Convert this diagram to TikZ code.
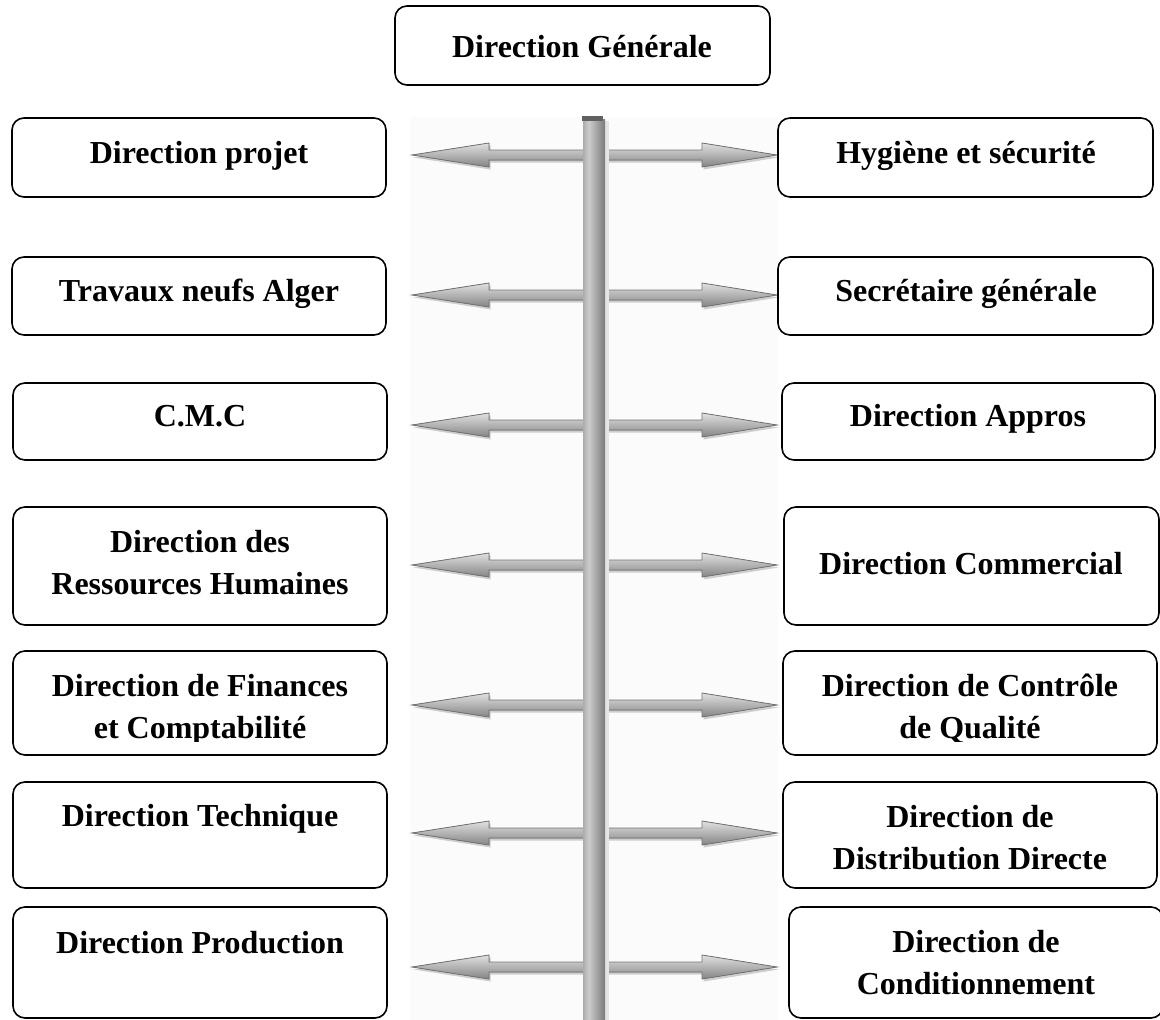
\documentclass[tikz,border=0pt]{standalone}
\usepackage{fontspec}
\setmainfont{Liberation Serif}
\usetikzlibrary{calc,fit,shadows}
% metallic shading for the vertical bar
\pgfdeclarehorizontalshading{polesh}{100bp}{color(0bp)=(black!62); color(12bp)=(black!45); color(38bp)=(black!20); color(70bp)=(black!48); color(100bp)=(black!68)}
\begin{document}
\begin{tikzpicture}[x=1pt,y=-1pt,
  orgbox/.style={draw=black, line width=1.6pt, rounded corners=12pt, fill=white, inner sep=0pt},
  orgtext/.style={font=\fontsize{32}{42}\selectfont\bfseries, align=center, inner sep=0pt, anchor=base},
  linkarrow/.style={top color=black!12, bottom color=black!48, draw=black!55, line width=0.8pt,
    drop shadow={shadow xshift=1.5pt, shadow yshift=-2.5pt, opacity=0.3, fill=black!60}},
]
\useasboundingbox (0,0) rectangle (1160,1020);

% faint backdrop behind the links
\fill[black!1.5] (410,117) rectangle (778,1020);

% two-way links between the left and right columns
\foreach \r/\yy in {1/155,2/295,3/425,4/565,5/705,6/833,7/967}{
  \coordinate (aL\r) at (412,\yy);
  \coordinate (aR\r) at (777,\yy);
  \filldraw[linkarrow] (aL\r) -- ($(aL\r)+(77,-12)$) -- ($(aL\r)+(77,-5)$)
    -- ($(aR\r)+(-75,-5)$) -- ($(aR\r)+(-75,-12)$) -- (aR\r)
    -- ($(aR\r)+(-75,12)$) -- ($(aR\r)+(-75,5)$)
    -- ($(aL\r)+(77,5)$) -- ($(aL\r)+(77,12)$) -- cycle;
}

% vertical bar
\fill[black!10] (605,121) rectangle (609,1020);
\node[fit={(583,119) (605,1020)}, inner sep=0pt, shading=polesh] (pole) {};
\fill[black!62] (582,116) rectangle (603,121);

% top box
\node[orgbox, fit={(395,6) (770,85)}] (dg) {};
\node[orgtext] (dg-t) at (582,57) {Direction Générale};

% left column
\node[orgbox, fit={(12,118) (386,197)}] (l1) {};
\node[orgtext] (l1-t) at (199,163) {Direction projet};
\node[orgbox, fit={(12,257) (386,335)}] (l2) {};
\node[orgtext] (l2-t) at (199,301) {Travaux neufs Alger};
\node[orgbox, fit={(13,383) (387,460)}] (l3) {};
\node[orgtext] (l3-t) at (200,426) {C.M.C};
\node[orgbox, fit={(13,507) (387,625)}] (l4) {};
\node[orgtext] (l4-t) at (200,594) {Direction des\\Ressources Humaines};
\node[orgbox, fit={(13,651) (387,755)}] (l5) {};
\node[orgbox, fit={(13,782) (387,888)}] (l6) {};
\node[orgtext] (l6-t) at (200,826) {Direction Technique};
\node[orgbox, fit={(13,907) (387,1018)}] (l7) {};
\node[orgtext] (l7-t) at (200,953) {Direction Production};

% right column
\node[orgbox, fit={(778,118) (1153,197)}] (r1) {};
\node[orgtext] (r1-t) at (966,163) {Hygiène et sécurité};
\node[orgbox, fit={(778,257) (1153,335)}] (r2) {};
\node[orgtext] (r2-t) at (966,301) {Secrétaire générale};
\node[orgbox, fit={(782,383) (1155,460)}] (r3) {};
\node[orgtext] (r3-t) at (968,426) {Direction Appros};
\node[orgbox, fit={(784,507) (1159,625)}] (r4) {};
\node[orgtext] (r4-t) at (971,574) {Direction Commercial};
\node[orgbox, fit={(783,651) (1157,755)}] (r5) {};
\node[orgbox, fit={(783,782) (1157,888)}] (r6) {};
\node[orgtext] (r6-t) at (970,869) {Direction de\\Distribution Directe};
\node[orgbox, fit={(789,907) (1163,1018)}] (r7) {};
\node[orgtext] (r7-t) at (976,994) {Direction de\\Conditionnement};

% row five labels are cut at the lower edge
\begin{scope}
  \clip (0,0) rectangle (1160,741);
  \node[orgtext] (l5-t) at (200,738) {Direction de Finances\\et Comptabilité};
  \node[orgtext] (r5-t) at (970,738) {Direction de Contrôle\\de Qualité};
\end{scope}
\end{tikzpicture}
\end{document}
